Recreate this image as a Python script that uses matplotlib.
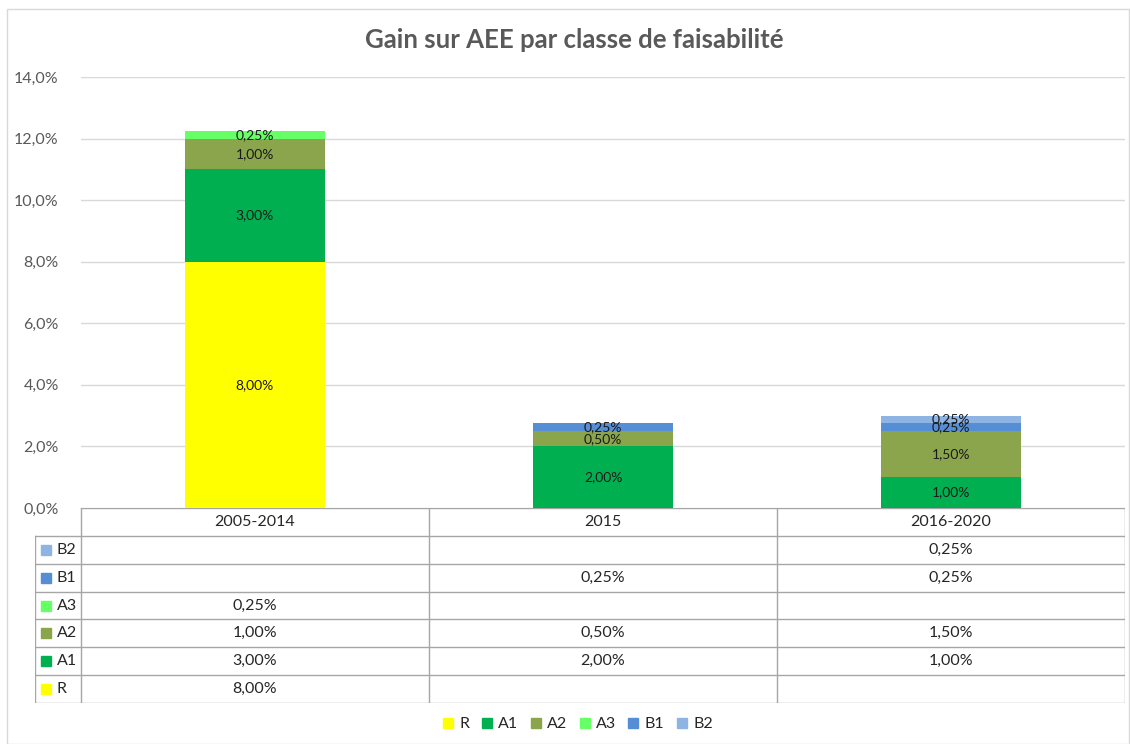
import numpy as np
import matplotlib.pyplot as plt
from matplotlib.patches import Rectangle
from matplotlib.lines import Line2D

plt.rcParams['font.family'] = ['Lato', 'DejaVu Sans']

# Données
periodes = ['2005-2014', '2015', '2016-2020']
classes = ['R', 'A1', 'A2', 'A3', 'B1', 'B2']
R = [8.00, np.nan, np.nan]
A1 = [3.00, 2.00, 1.00]
A2 = [1.00, 0.50, 1.50]
A3 = [0.25, np.nan, np.nan]
B1 = [np.nan, 0.25, 0.25]
B2 = [np.nan, np.nan, 0.25]
couleurs = ['#FFFF00', '#00B050', '#8BA54C', '#66FF66', '#558ED5', '#8EB4E3']
yticks = [0, 2, 4, 6, 8, 10, 12, 14]

series = [R, A1, A2, A3, B1, B2]
W, H = 1130, 744

fig = plt.figure(figsize=(W / 100, H / 100), dpi=100)
fig.add_artist(Rectangle((7 / W, 0), 1 - 8 / W, 1 - 9 / H, transform=fig.transFigure,
                         fill=False, edgecolor='#D9D9D9', lw=1))

# Graphique
ax = fig.add_axes([81 / W, 1 - 508 / H, (1125 - 81) / W, (508 - 77) / H])
x = np.arange(len(periodes))
bas = np.zeros(len(periodes))
for nom, vals, c in zip(classes, series, couleurs):
    v = np.nan_to_num(np.array(vals, dtype=float))
    bars = ax.bar(x, v, 0.4, bottom=bas, color=c, label=nom, zorder=2)
    for i, b in enumerate(bars):
        if v[i] > 0:
            ax.text(b.get_x() + b.get_width() / 2, bas[i] + v[i] / 2,
                    f'{v[i]:.2f}%'.replace('.', ','), ha='center', va='center',
                    fontsize=10, color='#1a1a1a', zorder=3)
    bas += v

ax.set_xlim(-0.5, 2.5)
ax.set_ylim(0, 14)
ax.set_yticks(yticks)
ax.set_yticklabels([f'{t:.1f}%'.replace('.', ',') for t in yticks], color='#595959', fontsize=11.5)
ax.tick_params(axis='y', length=0, pad=16)
ax.set_xticks([])
ax.grid(axis='y', color='#D9D9D9', lw=1, zorder=0)
for s in ax.spines.values():
    s.set_visible(False)

fig.text(574 / W, 1 - 40 / H, 'Gain sur AEE par classe de faisabilité', ha='center', va='center',
         fontsize=18.5, fontweight='bold', color='#595959')

# Tableau de données
gauche = -0.5 - (81 - 35) / 348
tab = fig.add_axes([35 / W, 1 - 703 / H, (1125 - 35) / W, (703 - 508) / H])
tab.set_xlim(gauche, 2.5)
tab.set_ylim(7, 0)
tab.axis('off')
lc = '#A6A6A6'
tab.plot([-0.5, 2.5], [0, 0], color=lc, lw=1)
for xi in [-0.5, 0.5, 1.5, 2.5]:
    tab.plot([xi, xi], [0, 7], color=lc, lw=1)
tab.plot([gauche, gauche], [1, 7], color=lc, lw=1)
for r in range(1, 8):
    tab.plot([gauche, 2.5], [r, r], color=lc, lw=1)
for i, p in enumerate(periodes):
    tab.text(i, 0.5, p, ha='center', va='center', fontsize=11.5, color='#262626')
lignes = list(zip(classes, series, couleurs))[::-1]
for r, (nom, vals, c) in enumerate(lignes, start=1):
    tab.plot(gauche + 0.031, r + 0.5, marker='s', markersize=6.5, color=c, linestyle='none')
    tab.text(gauche + 0.062, r + 0.5, nom, ha='left', va='center', fontsize=11.5, color='#262626')
    for i, v in enumerate(vals):
        if not np.isnan(v):
            tab.text(i, r + 0.5, f'{v:.2f}%'.replace('.', ','), ha='center', va='center',
                     fontsize=11.5, color='#262626')

# Légende
h = [Line2D([], [], marker='s', markersize=7, color=c, linestyle='none') for c in couleurs]
fig.legend(h, classes, loc='center', bbox_to_anchor=(578 / W, 1 - 724 / H), ncol=6, frameon=False,
           handlelength=0.6, handletextpad=0.4, columnspacing=0.8,
           fontsize=11.5, labelcolor='#262626')

fig.savefig('out.png', dpi=100)
